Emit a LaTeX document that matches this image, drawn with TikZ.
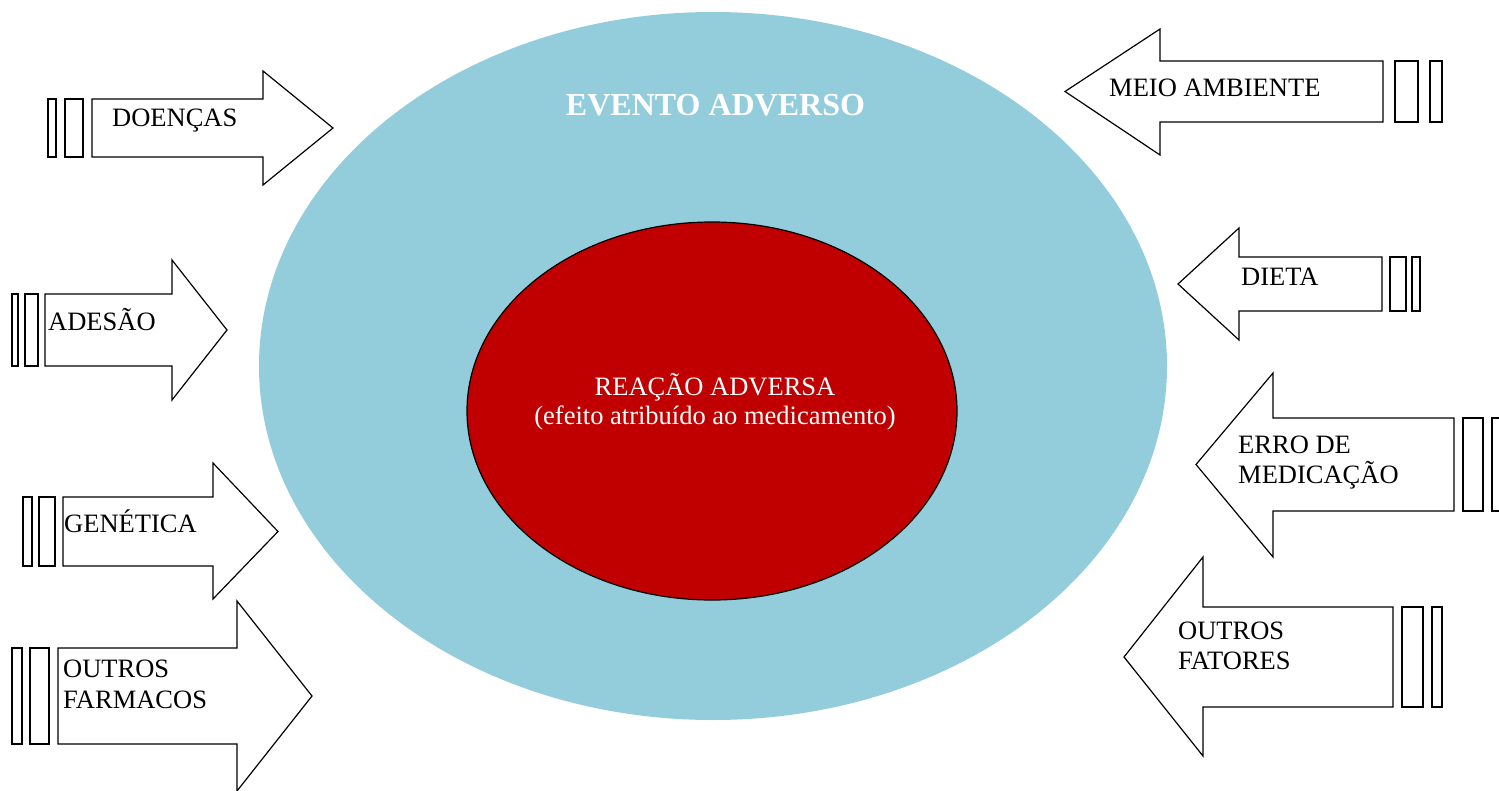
\documentclass[tikz,border=0pt]{standalone}
\usepackage{fontspec}
\setmainfont{Liberation Serif}
\usetikzlibrary{shapes.geometric}
\definecolor{evblue}{HTML}{93CDDC}
\definecolor{evred}{HTML}{C00000}
\tikzset{
  arrowshape/.style={draw=black, fill=white, line width=1.2pt, line join=miter},
  barbox/.style={draw=black, fill=white, line width=1.2pt},
  lbl/.style={anchor=base west, inner sep=0pt, font=\fontsize{26.5}{31}\selectfont, align=left, text=black},
}
\begin{document}
\begin{tikzpicture}[x=1pt, y=-1pt]
\clip (0,0) rectangle (1499,790);
\fill[white] (0,0) rectangle (1499,790);

% ellipses
\node[ellipse, fill=evblue, inner sep=0pt, minimum width=908pt, minimum height=708pt] (outer) at (713,366) {};
\node[ellipse, fill=evred, draw=black, line width=1.2pt, inner sep=0pt, minimum width=490pt, minimum height=378pt] (inner) at (712,411) {};

\node[anchor=base, inner sep=0pt, text=white, font=\fontsize{32}{36}\selectfont\bfseries] (title) at (715.5,115.5) {EVENTO ADVERSO};
\node[anchor=base, inner sep=0pt, text=white, font=\fontsize{26.5}{31}\selectfont] (rea) at (715,395.5) {REAÇÃO ADVERSA};
\node[anchor=base, inner sep=0pt, text=white, font=\fontsize{26.5}{31}\selectfont] (efe) at (715,424.5) {(efeito atribuído ao medicamento)};

% left side arrows (pointing right)
% DOENCAS
\draw[arrowshape] (92,99) -- (263,99) -- (263,71) -- (333,128) -- (263,185) -- (263,157) -- (92,157) -- cycle;
\draw[barbox] (48,99) rectangle (56,157);
\draw[barbox] (65,99) rectangle (83,157);
\node[lbl] (doencas) at (112,126.5) {DOENÇAS};

% ADESAO
\draw[arrowshape] (45,294) -- (172,294) -- (172,260) -- (227,330) -- (172,400) -- (172,366) -- (45,366) -- cycle;
\draw[barbox] (12,294) rectangle (18,366);
\draw[barbox] (25,294) rectangle (38,366);
\node[lbl] (adesao) at (48,330) {ADESÃO};

% GENETICA
\draw[arrowshape] (63,497) -- (213,497) -- (213,463) -- (278,531.5) -- (213,599) -- (213,566) -- (63,566) -- cycle;
\draw[barbox] (23,497) rectangle (32,566);
\draw[barbox] (39,497) rectangle (55,566);
\node[lbl] (genetica) at (64,532) {GENÉTICA};

% OUTROS FARMACOS
\draw[arrowshape] (58,648) -- (237,648) -- (237,601) -- (312,696) -- (237,791) -- (237,744) -- (58,744) -- cycle;
\draw[barbox] (12,648) rectangle (22,744);
\draw[barbox] (30,648) rectangle (49,744);
\node[lbl] (outrosf1) at (63,677) {OUTROS};
\node[lbl] (outrosf2) at (63,708) {FARMACOS};

% right side arrows (pointing left)
% MEIO AMBIENTE
\draw[arrowshape] (1383,61) -- (1160,61) -- (1160,29) -- (1065,91.5) -- (1160,155) -- (1160,122) -- (1383,122) -- cycle;
\draw[barbox] (1395,61) rectangle (1418,122);
\draw[barbox] (1430,61) rectangle (1442,122);
\node[lbl] (meio) at (1109,96) {MEIO AMBIENTE};

% DIETA
\draw[arrowshape] (1382,257) -- (1239,257) -- (1239,228) -- (1178,284) -- (1239,340) -- (1239,311) -- (1382,311) -- cycle;
\draw[barbox] (1390,257) rectangle (1406,311);
\draw[barbox] (1412,257) rectangle (1420,311);
\node[lbl] (dieta) at (1241,285) {DIETA};

% ERRO DE MEDICACAO
\draw[arrowshape] (1454,418) -- (1273,418) -- (1273,373) -- (1196,464.5) -- (1273,557) -- (1273,511) -- (1454,511) -- cycle;
\draw[barbox] (1463,418) rectangle (1483,511);
\draw[barbox] (1492,418) rectangle (1510,511);
\node[lbl] (erro1) at (1238,453) {ERRO DE};
\node[lbl] (erro2) at (1238,483) {MEDICAÇÃO};

% OUTROS FATORES
\draw[arrowshape] (1393,607) -- (1203,607) -- (1203,557) -- (1124,657) -- (1203,756) -- (1203,707) -- (1393,707) -- cycle;
\draw[barbox] (1402,607) rectangle (1423,707);
\draw[barbox] (1432,607) rectangle (1442,707);
\node[lbl] (fat1) at (1178,639) {OUTROS};
\node[lbl] (fat2) at (1178,669) {FATORES};
\end{tikzpicture}
\end{document}
